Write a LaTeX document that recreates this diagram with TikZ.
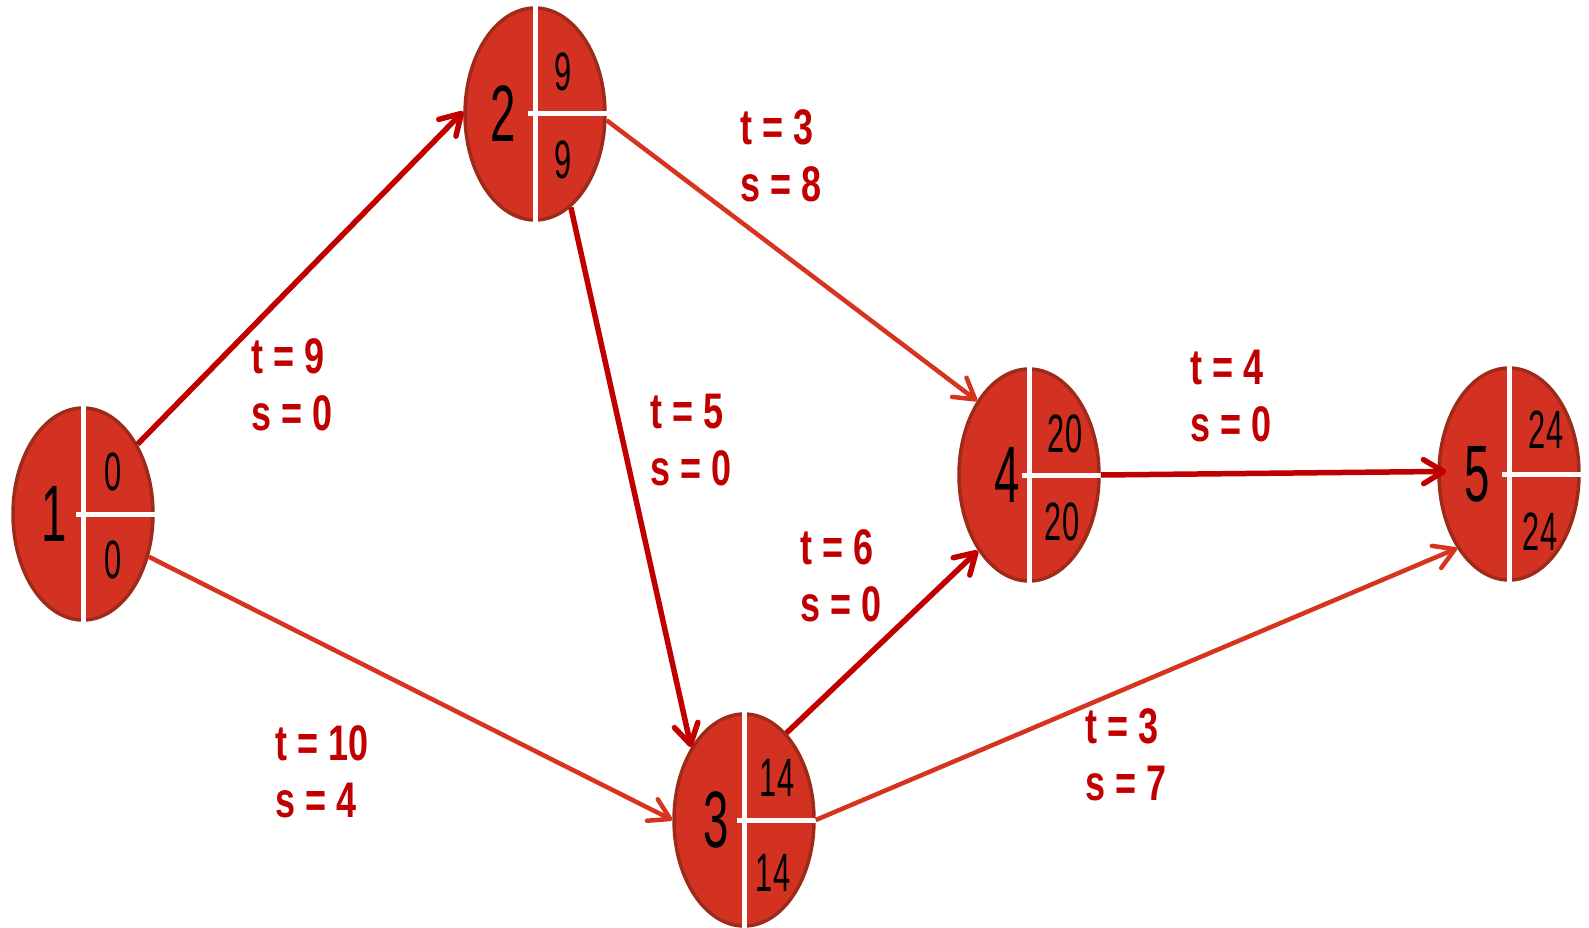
\documentclass[tikz,border=0pt]{standalone}
\usepackage{fontspec}
\newfontfamily\tagfont[FakeStretch=0.72]{Liberation Sans}
\newfontfamily\numfont[FakeStretch=0.57]{Liberation Sans}
\usetikzlibrary{shapes.geometric,arrows.meta}
\definecolor{eventfill}{HTML}{D33222}
\definecolor{eventrim}{HTML}{9E2A1A}
\definecolor{critred}{HTML}{C00000}
\definecolor{slackred}{HTML}{D6341F}
\tikzset{
  event/.style={ellipse, draw=eventrim, fill=eventfill, line width=3.5pt,
    minimum width=140pt, minimum height=212pt, inner sep=0pt},
  divider/.style={white, line width=5pt},
  bignum/.style={font=\numfont\fontsize{80}{80}\selectfont, inner sep=0pt},
  smallnum/.style={font=\numfont\fontsize{54}{54}\selectfont, inner sep=0pt},
  tag/.style={font=\tagfont\bfseries\fontsize{50}{57}\selectfont, text=critred,
    align=left, anchor=west, inner sep=0pt},
  crit/.style={critred, line width=5.5pt, -{Straight Barb[length=20pt,width=24pt,round]}},
  slack/.style={slackred, line width=4.5pt, -{Straight Barb[length=20pt,width=24pt,round]}},
}
\begin{document}
\begin{tikzpicture}[x=1pt, y=-1pt]
    \useasboundingbox (0,0) rectangle (1589,928);
    % events
    \node[event] (e1) at (83,514) {};
    \draw[divider] (e1.north) -- (e1.south);
    \draw[divider] ([xshift=-7]e1.center) -- (e1.east);
    \node[bignum] (e1n) at ([xshift=-29]e1.center) {1};
    \node[smallnum] (e1a) at ([xshift=30,yshift=42]e1.center) {0};
    \node[smallnum] (e1b) at ([xshift=30,yshift=-46]e1.center) {0};

    \node[event] (e2) at (535,114) {};
    \draw[divider] (e2.north) -- (e2.south);
    \draw[divider] ([xshift=-7]e2.center) -- (e2.east);
    \node[bignum] (e2n) at ([xshift=-32]e2.center) {2};
    \node[smallnum] (e2a) at ([xshift=28,yshift=42]e2.center) {9};
    \node[smallnum] (e2b) at ([xshift=28,yshift=-46]e2.center) {9};

    \node[event] (e3) at (744,820) {};
    \draw[divider] (e3.north) -- (e3.south);
    \draw[divider] ([xshift=-7]e3.center) -- (e3.east);
    \node[bignum] (e3n) at ([xshift=-28]e3.center) {3};
    \node[smallnum] (e3a) at ([xshift=33,yshift=42]e3.center) {14};
    \node[smallnum] (e3b) at ([xshift=29,yshift=-53]e3.center) {14};

    \node[event] (e4) at (1029,475) {};
    \draw[divider] (e4.north) -- (e4.south);
    \draw[divider] ([xshift=-7]e4.center) -- (e4.east);
    \node[bignum] (e4n) at ([xshift=-22]e4.center) {4};
    \node[smallnum] (e4a) at ([xshift=36,yshift=41]e4.center) {20};
    \node[smallnum] (e4b) at ([xshift=33,yshift=-47]e4.center) {20};

    \node[event] (e5) at (1509,474) {};
    \draw[divider] (e5.north) -- (e5.south);
    \draw[divider] ([xshift=-7]e5.center) -- (e5.east);
    \node[bignum] (e5n) at ([xshift=-32]e5.center) {5};
    \node[smallnum] (e5a) at ([xshift=37,yshift=44]e5.center) {24};
    \node[smallnum] (e5b) at ([xshift=31,yshift=-58]e5.center) {24};

    % activities
    \draw[crit] (e1.52) -- (e2.178);
    \draw[slack] (e1.-33) -- (e3.180);
    \draw[slack] (e2.-5) -- (e4.125);
    \draw[crit] (e2.-69) -- (e3.126);
    \draw[crit] (e3.64) -- (e4.-124);
    \draw[crit, shorten >=-9pt] (e4.0) -- (e5.178);
    \draw[slack] (e3.0) -- (e5.-125);

    % durations and slacks
    \node[tag] (t12) at (251,385) {t = 9\\s = 0};
    \node[tag] (t24) at (740,156) {t = 3\\s = 8};
    \node[tag] (t23) at (650,440) {t = 5\\s = 0};
    \node[tag] (t34) at (800,576) {t = 6\\s = 0};
    \node[tag] (t45) at (1190,396) {t = 4\\s = 0};
    \node[tag] (t13) at (275,772) {t = 10\\s = 4};
    \node[tag] (t35) at (1085,755) {t = 3\\s = 7};
\end{tikzpicture}
\end{document}
